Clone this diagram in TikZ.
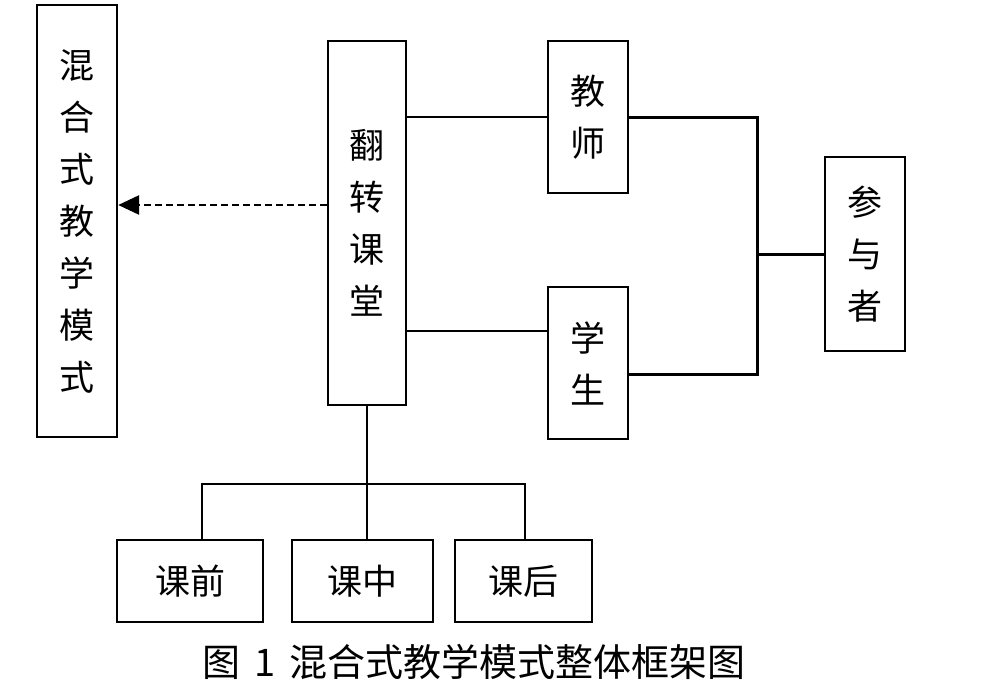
\documentclass[tikz,border=0pt]{standalone}
\usepackage{fontspec}
\newfontfamily\cjk{Noto Sans CJK SC}
\usetikzlibrary{arrows.meta}
\newcommand\myboxfont{\cjk\fontsize{35}{52}\selectfont}
\newcommand\mycapfont{\cjk\fontsize{38}{42}\selectfont}
\tikzset{
  box/.style={draw, line width=2.4pt, inner sep=0pt, align=center, font=\myboxfont},
  conn/.style={line width=2.2pt},
  thickconn/.style={line width=3pt},
  dasharrow/.style={line width=2.8pt, dash pattern=on 7pt off 4pt, -{Triangle[length=21pt,width=19pt]}}
}
\begin{document}
\begin{tikzpicture}[x=1pt,y=-1pt]
\useasboundingbox (0,0) rectangle (992,688);
\node[box, minimum width=80pt, minimum height=432pt] (mix) at (77,221) {混\\合\\式\\教\\学\\模\\式};
\node[box, minimum width=78pt, minimum height=364pt] (flip) at (367,223) {翻\\转\\课\\堂};
\node[box, minimum width=80pt, minimum height=152pt] (teacher) at (588,117) {教\\师};
\node[box, minimum width=80pt, minimum height=152pt] (student) at (588,363) {学\\生};
\node[box, minimum width=80pt, minimum height=194pt] (part) at (865,254) {参\\与\\者};
\node[box, minimum width=146pt, minimum height=82pt] (pre) at (190,581) {课前};
\node[box, minimum width=141pt, minimum height=82pt] (mid) at (362.5,581) {课中};
\node[box, minimum width=137pt, minimum height=82pt] (post) at (523.5,581) {课后};
\node[font=\mycapfont, inner sep=0pt] (cap) at (474,662) {图\hspace{14pt}1\hspace{14pt}混合式教学模式整体框架图};
\coordinate (jr) at (757,254);
\coordinate (jb) at (367,484);
% dashed arrow
\draw[dasharrow] ([yshift=18pt]flip.west) -- ([yshift=18pt]flip.west -| mix.east);
% flip to teacher / student
\draw[conn] (teacher.west -| flip.east) -- (teacher.west);
\draw[conn] ([yshift=32pt]student.west -| flip.east) -- ([yshift=32pt]student.west);
% teacher/student to participants
\draw[thickconn] (teacher.east) -- (teacher.east -| jr) -- ([yshift=-11pt]student.east -| jr) -- ([yshift=-11pt]student.east);
\draw[thickconn] (jr) -- (part.west);
% bottom tree
\draw[conn] (flip.south) -- (flip.south |- mid.north);
\draw[conn] ([xshift=12pt]pre.north) -- ([xshift=12pt]pre.north |- jb) -- ([xshift=1.5pt]post.north |- jb) -- ([xshift=1.5pt]post.north);
\end{tikzpicture}
\end{document}
